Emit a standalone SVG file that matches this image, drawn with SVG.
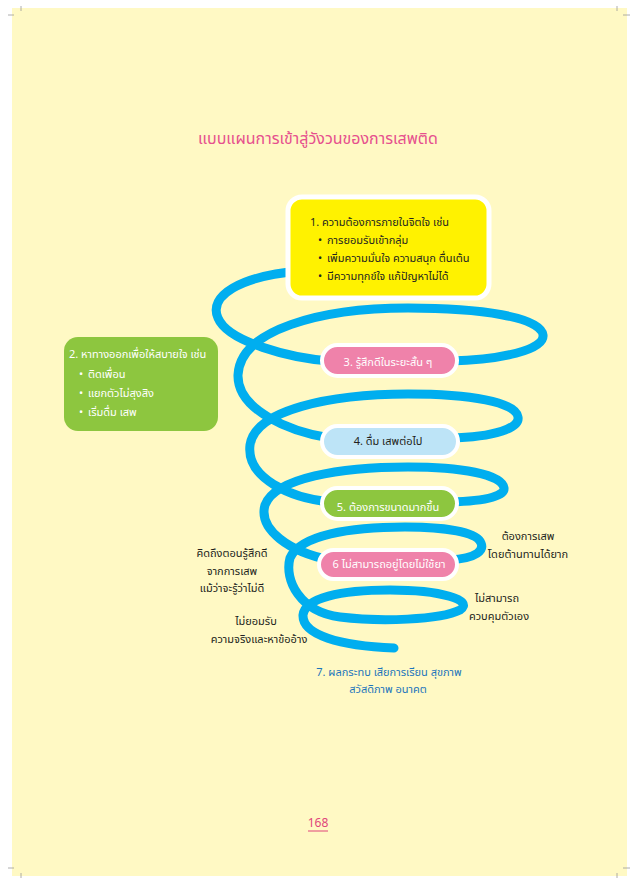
<svg xmlns="http://www.w3.org/2000/svg" width="637" height="884" viewBox="0 0 637 884">
<style>
text{font-family:"Noto Sans Thai","Noto Sans Thai Looped","Noto Sans","DejaVu Sans",sans-serif;font-size:11px;fill:#231F20}
.w{fill:#ffffff}
.c{text-anchor:middle}
.pill{stroke:#ffffff;stroke-width:4}
.tick{stroke:#9a9a9a;stroke-width:0.8}
</style>
<rect x="0" y="0" width="637" height="884" fill="#ffffff"/>
<rect x="12" y="8" width="615" height="868" fill="#FFF9C4"/>
<g id="cropmarks">
<line class="tick" x1="8" y1="15" x2="14" y2="15"/><line class="tick" x1="21" y1="6" x2="21" y2="11"/>
<line class="tick" x1="623" y1="15" x2="630" y2="15"/><line class="tick" x1="617" y1="6" x2="617" y2="11"/>
<line class="tick" x1="8" y1="868" x2="14" y2="868"/><line class="tick" x1="21" y1="873" x2="21" y2="878"/>
<line class="tick" x1="623" y1="868" x2="630" y2="868"/><line class="tick" x1="617" y1="873" x2="617" y2="878"/>
</g>
<text id="title" x="318" y="144" class="c" style="font-size:16px;fill:#E6508E">แบบแผนการเข้าสู่วังวนของการเสพติด</text>
<g id="connectors">
<path fill="none" stroke="#00AEEF" stroke-width="9" stroke-linecap="round" d="M 300 271 C 240 276, 208 296, 218 318 C 228 342, 290 358, 330 361 L 450 361 C 500 360, 545 350, 543 335 C 541 317, 480 308, 408 308 C 320 308, 240 330, 238 375 C 237 410, 290 432, 330 438 L 450 438 C 495 437, 520 428, 518 417 C 516 402, 470 394, 408 394 C 330 394, 255 410, 250 445 C 246 478, 290 498, 330 502 L 450 502 C 490 501, 505 495, 504 488 C 502 474, 460 467, 408 467 C 340 467, 275 478, 265 505 C 258 530, 290 552, 330 560 L 450 560 C 478 558, 484 550, 481 543 C 477 532, 445 527, 405 527 C 350 527, 300 535, 290 558 C 284 580, 300 612, 340 617 C 380 622, 440 620, 460 610 C 475 600, 440 590, 390 590 C 340 590, 305 598, 303 615 C 302 635, 340 646, 394 648"/>
</g>
<g id="n1">
<rect x="288" y="197" width="201" height="101" rx="14" fill="#FFF200" stroke="#ffffff" stroke-width="5"/>
<text x="310" y="226">1. ความต้องการภายในจิตใจ เช่น</text>
<text x="318" y="244">•</text><text x="327" y="244">การยอมรับเข้ากลุ่ม</text>
<text x="318" y="262">•</text><text x="327" y="262">เพิ่มความมั่นใจ ความสนุก ตื่นเต้น</text>
<text x="318" y="280">•</text><text x="327" y="280">มีความทุกข์ใจ แก้ปัญหาไม่ได้</text>
</g>
<g id="n2">
<rect x="64" y="337" width="154" height="94" rx="14" fill="#8DC63F"/>
<text class="w" x="69" y="358">2. หาทางออกเพื่อให้สบายใจ เช่น</text>
<text class="w" x="79" y="378">•</text><text class="w" x="88" y="378">ติดเพื่อน</text>
<text class="w" x="79" y="397">•</text><text class="w" x="88" y="397">แยกตัวไม่สุงสิง</text>
<text class="w" x="79" y="416">•</text><text class="w" x="88" y="416">เริ่มดื่ม เสพ</text>
</g>
<g id="n3">
<rect class="pill" x="322" y="345" width="135" height="31" rx="15.5" fill="#EF82AA"/>
<text class="w c" x="388" y="366">3. รู้สึกดีในระยะสั้น ๆ</text>
</g>
<g id="n4">
<rect class="pill" x="322" y="426" width="136" height="31" rx="15.5" fill="#BDE4F7"/>
<text class="c" x="388" y="445">4. ดื่ม เสพต่อไป</text>
</g>
<g id="n5">
<rect class="pill" x="322" y="488" width="135" height="31" rx="15.5" fill="#8DC63F"/>
<text class="w c" x="388" y="511">5. ต้องการขนาดมากขึ้น</text>
</g>
<g id="n6">
<rect class="pill" x="319" y="550" width="138" height="29" rx="14.5" fill="#EF82AA"/>
<text class="w c" x="389" y="568">6 ไม่สามารถอยู่โดยไม่ใช้ยา</text>
</g>
<g id="labels">
<text class="c" x="232" y="557">คิดถึงตอนรู้สึกดี</text>
<text class="c" x="232" y="575">จากการเสพ</text>
<text class="c" x="232" y="592">แม้ว่าจะรู้ว่าไม่ดี</text>
<text class="c" x="528" y="540">ต้องการเสพ</text>
<text class="c" x="528" y="558">โดยต้านทานได้ยาก</text>
<text class="c" x="497" y="602">ไม่สามารถ</text>
<text class="c" x="499" y="620">ควบคุมตัวเอง</text>
<text class="c" x="256" y="625">ไม่ยอมรับ</text>
<text class="c" x="259" y="643">ความจริงและหาข้ออ้าง</text>
</g>
<g id="n7">
<text class="c" x="389" y="676" style="fill:#1C75BC">7. ผลกระทบ เสียการเรียน สุขภาพ</text>
<text class="c" x="388" y="693" style="fill:#1C75BC">สวัสดิภาพ อนาคต</text>
</g>
<g id="page">
<text class="c" x="318" y="827" style="fill:#E0457B;font-size:12px">168</text>
<line x1="308" y1="831" x2="328" y2="831" stroke="#E0457B" stroke-width="1"/>
</g>
</svg>
